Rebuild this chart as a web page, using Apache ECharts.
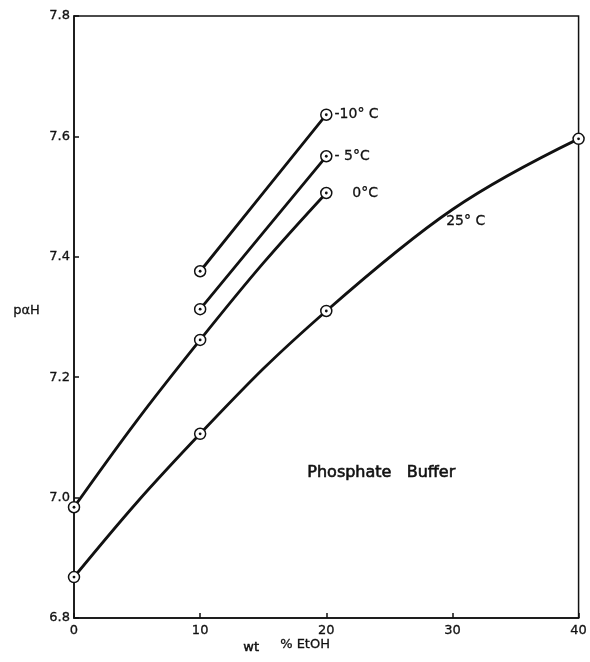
<!DOCTYPE html>
<html><head><meta charset="utf-8">
<script src="https://cdn.jsdelivr.net/npm/echarts@6/dist/echarts.min.js"></script>
<style>html,body{margin:0;padding:0;background:#fff}#c{width:590px;height:662px}</style>
</head><body><div id="c"></div>
<script>
var xTicks = [0, 10, 20, 30, 40];
var yTicks = [6.8, 7.0, 7.2, 7.4, 7.6, 7.8];
var seriesNames = ['-10° C', '- 5°C', '0°C', '25° C'];
var x_m10 = [10, 20];
var y_m10 = [7.376, 7.636];
var x_m5 = [10, 20];
var y_m5 = [7.313, 7.567];
var x_0 = [0, 10, 20];
var y_0 = [6.984, 7.262, 7.506];
var x_25 = [0, 10, 20, 40];
var y_25 = [6.868, 7.106, 7.31, 7.596];

function pairs(xs, ys){ return xs.map(function(x,i){ return [x, ys[i]]; }); }
var sets = [
  {name: seriesNames[0], data: pairs(x_m10, y_m10), label: true},
  {name: seriesNames[1], data: pairs(x_m5, y_m5), label: true},
  {name: seriesNames[2], data: pairs(x_0, y_0), label: true},
  {name: seriesNames[3], data: pairs(x_25, y_25), label: false}
];
var font = 'DejaVu Sans';
var ink = '#111';
var HANDLE = 0.42; // bezier handle length as fraction of segment width (curve tension style)
var series = [];

// smooth curve through the data points (cubic Hermite-style bezier), drawn in pixel space via api.coord
function curveRender(points){
  return function(params, api){
    if (params.dataIndex !== 0) return null;
    var px = points.map(function(p){ return api.coord(p); });
    var n = px.length;
    var d = [], h = [];
    for (var k = 0; k < n-1; k++) {
      h.push(px[k+1][0]-px[k][0]);
      d.push((px[k+1][1]-px[k][1])/h[k]);
    }
    var m = new Array(n);
    if (n === 2) { m[0] = m[1] = d[0]; }
    else {
      for (var i = 1; i < n-1; i++) m[i] = (h[i]*d[i-1] + h[i-1]*d[i])/(h[i-1]+h[i]);
      m[0] = 2*d[0] - m[1];
      m[n-1] = 2*d[n-2] - m[n-2];
    }
    var path = 'M' + px[0][0] + ' ' + px[0][1];
    for (var j = 0; j < n-1; j++) {
      var p0 = px[j], p1 = px[j+1], L = h[j]*HANDLE;
      path += ' C' + (p0[0]+L) + ' ' + (p0[1]+m[j]*L) + ' ' + (p1[0]-L) + ' ' + (p1[1]-m[j+1]*L) + ' ' + p1[0] + ' ' + p1[1];
    }
    return {type: 'path', shape: {pathData: path}, style: {stroke: ink, lineWidth: 2.8, fill: null}};
  };
}

sets.forEach(function(s){
  series.push({type: 'custom', name: s.name, data: s.data, renderItem: curveRender(s.data), z: 2, silent: true, clip: true});
  var d = s.data.map(function(p, i){
    var item = {value: p};
    if (s.label && i === s.data.length - 1) {
      item.label = {show: true, position: 'right', distance: 2,
        formatter: s.name === '0°C' ? '    ' + s.name : s.name,
        color: ink, fontFamily: font, fontSize: 14, textBorderColor: ink, textBorderWidth: 0.3};
    }
    return item;
  });
  series.push({type: 'scatter', name: s.name, data: d,
    symbol: 'circle', symbolSize: 11,
    itemStyle: {color: '#fff', borderColor: ink, borderWidth: 1.5, opacity: 1},
    z: 3});
  series.push({type: 'scatter', data: s.data, symbol: 'circle', symbolSize: 2.8,
    itemStyle: {color: ink, opacity: 1}, z: 5, silent: true});
});

var labelStyle = {color: ink, fontFamily: font, fontSize: 13, textBorderColor: ink, textBorderWidth: 0.3};
var chart = echarts.init(document.getElementById('c'));
chart.setOption({
  animation: false,
  backgroundColor: '#fff',
  grid: {left: 74, right: 9, top: 16, bottom: 44, show: true, borderColor: ink, borderWidth: 1.5},
  xAxis: {type: 'value', min: 0, max: 40, interval: 10,
    axisLine: {show: true, lineStyle: {color: ink, width: 1.5}},
    axisTick: {show: true, inside: true, length: 5, lineStyle: {color: ink, width: 1.5}},
    splitLine: {show: false},
    axisLabel: Object.assign({margin: 6}, labelStyle)},
  yAxis: {type: 'value', min: 6.8, max: 7.8, interval: 0.2,
    axisLine: {show: true, lineStyle: {color: ink, width: 1.5}},
    axisTick: {show: true, inside: true, length: 5, lineStyle: {color: ink, width: 1.5}},
    splitLine: {show: false},
    axisLabel: Object.assign({margin: 4, formatter: function(v){ return v.toFixed(1); }}, labelStyle)},
  graphic: [
    {type: 'text', left: 446, top: 214, style: {text: seriesNames[3], fill: ink, font: '14px "DejaVu Sans"', stroke: ink, lineWidth: 0.3}},
    {type: 'text', left: 307, top: 465, style: {text: 'Phosphate   Buffer', fill: ink, font: '16px "DejaVu Sans"', stroke: ink, lineWidth: 0.6}},
    {type: 'text', left: 13, top: 304, style: {text: 'pαH', fill: ink, font: '13px "DejaVu Sans"', stroke: ink, lineWidth: 0.3}},
    {type: 'text', left: 243, top: 641, style: {text: 'wt', fill: ink, font: '13px "DejaVu Sans"', stroke: ink, lineWidth: 0.5}},
    {type: 'text', left: 280, top: 638, style: {text: '% EtOH', fill: ink, font: '13px "DejaVu Sans"', stroke: ink, lineWidth: 0.3}}
  ],
  series: series
});
</script></body></html>
